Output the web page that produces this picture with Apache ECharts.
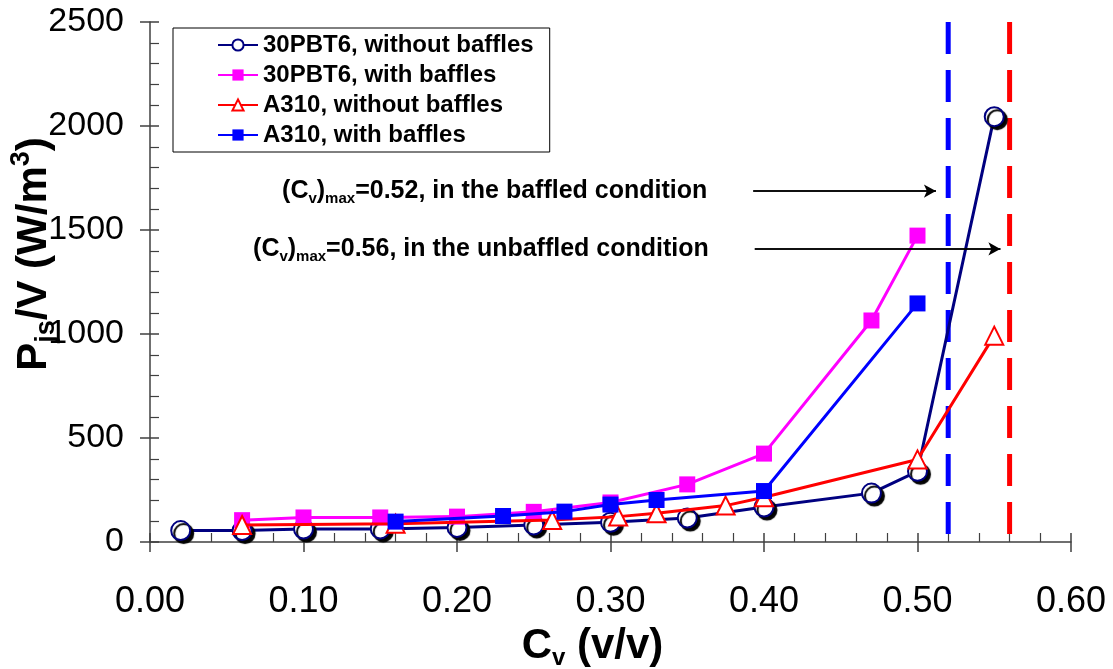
<!DOCTYPE html>
<html>
<head>
<meta charset="utf-8">
<script src="https://cdn.jsdelivr.net/npm/echarts@6/dist/echarts.min.js"></script>
<style>
html,body{margin:0;padding:0;background:#fff;}
#chart{width:1113px;height:669px;}
</style>
</head>
<body>
<div id="chart"></div>
<script>
// ---- data ----
const cv_30pbt6_nb = [0.02, 0.06, 0.10, 0.15, 0.20, 0.25, 0.30, 0.35, 0.40, 0.47, 0.50, 0.55];
const p_30pbt6_nb  = [55, 55, 62, 63, 70, 82, 95, 115, 168, 235, 340, 2045];
const cv_30pbt6_b  = [0.06, 0.10, 0.15, 0.20, 0.25, 0.30, 0.35, 0.40, 0.47, 0.50];
const p_30pbt6_b   = [105, 118, 118, 122, 145, 190, 277, 425, 1065, 1473];
const cv_a310_nb   = [0.06, 0.16, 0.262, 0.305, 0.33, 0.375, 0.40, 0.50, 0.55];
const p_a310_nb    = [82, 88, 106, 122, 138, 175, 215, 397, 992];
const cv_a310_b    = [0.16, 0.23, 0.27, 0.30, 0.33, 0.40, 0.50];
const p_a310_b     = [98, 125, 146, 180, 202, 245, 1147];
const seriesNames  = ['30PBT6, without baffles', '30PBT6, with baffles', 'A310, without baffles', 'A310, with baffles'];
const cvMaxBaffled = 0.52;
const cvMaxUnbaffled = 0.56;
const yTop = 2500;
// annotation arrows: [xStart, xEnd, y] in data units
const arrowBaffled   = [0.393, 0.512, 1687];
const arrowUnbaffled = [0.394, 0.554, 1409];

const zip = (xs, ys) => xs.map((x, i) => [x, ys[i]]);

const chart = echarts.init(document.getElementById('chart'), null, {renderer: 'canvas'});

const axisColor = '#404040';
const arial = '"Liberation Sans", Arial, sans-serif';

const gridRect = {left: 150, right: 42, top: 22, bottom: 127, containLabel: false, outerBoundsMode: 'none'};

function arrowSeries(a, label) {
  return [{
    type: 'line', xAxisIndex: 0, yAxisIndex: 0, silent: true,
    data: [[a[0], a[2]], [a[1], a[2]]],
    showSymbol: false, symbol: 'none',
    lineStyle: {color: '#000', width: 1.5},
    z: 5,
    markLine: {
      silent: true, symbol: ['none', 'arrow'], symbolSize: [10, 12],
      lineStyle: {color: '#000', width: 1.5, type: 'solid'},
      label: {show: false},
      data: [[{coord: [a[0], a[2]]}, {coord: [a[1], a[2]]}]]
    }
  }, {
    type: 'scatter', xAxisIndex: 0, yAxisIndex: 0, silent: true,
    data: [[a[0], a[2]]], symbolSize: 0,
    itemStyle: {opacity: 1},
    label: {
      show: true, position: 'left', distance: 46, color: '#000', opacity: 1,
      formatter: label,
      rich: {
        b: {fontFamily: arial, fontWeight: 'bold', fontSize: 25, color: '#000', verticalAlign: 'middle', lineHeight: 30},
        s: {fontFamily: arial, fontWeight: 'bold', fontSize: 15, color: '#000', verticalAlign: 'bottom', lineHeight: 30}
      }
    }
  }];
}

const option = {
  backgroundColor: '#fff',
  animation: false,
  grid: [Object.assign({}, gridRect), Object.assign({}, gridRect)],
  legend: {
    data: seriesNames,
    orient: 'vertical',
    left: 173, top: 28,
    padding: [5, 16, 5, 44],
    borderColor: '#000', borderWidth: 1,
    itemWidth: 40, itemHeight: 14, itemGap: 6,
    textStyle: {fontFamily: arial, fontWeight: 'bold', fontSize: 24, color: '#000', lineHeight: 24},
  },
  xAxis: [{
    gridIndex: 0, type: 'value', min: 0, max: 0.6, interval: 0.1,
    axisLine: {show: true, onZero: false, lineStyle: {color: axisColor, width: 1.5}},
    axisTick: {show: true, inside: false, length: 10, lineStyle: {color: axisColor, width: 1.5}},
    axisLabel: {fontFamily: arial, fontSize: 36, color: '#000', margin: 42, formatter: v => v.toFixed(2)},
    splitLine: {show: false},
    name: '{b|C}{s|v}{b| (v/v)}',
    nameLocation: 'middle', nameGap: 80, nameMoveOverlap: false,
    nameTextStyle: {
      padding: [0, 36, 0, 0],
      rich: {
        b: {fontFamily: arial, fontWeight: 'bold', fontSize: 42, color: '#000', verticalAlign: 'middle', lineHeight: 48},
        s: {fontFamily: arial, fontWeight: 'bold', fontSize: 24, color: '#000', verticalAlign: 'bottom', lineHeight: 48}
      }
    }
  }, {
    gridIndex: 1, type: 'value', min: 0, max: 0.6, interval: 0.1,
    axisLine: {show: false},
    axisTick: {show: true, inside: true, length: 9, lineStyle: {color: axisColor, width: 1.5}},
    minorTick: {show: true, splitNumber: 5, length: 9, lineStyle: {color: axisColor, width: 1.2}},
    axisLabel: {show: false}, splitLine: {show: false}
  }],
  yAxis: [{
    gridIndex: 0, type: 'value', min: 0, max: yTop, interval: 500,
    axisLine: {show: true, onZero: false, lineStyle: {color: axisColor, width: 1.5}},
    axisTick: {show: true, inside: false, length: 10, lineStyle: {color: axisColor, width: 1.5}},
    axisLabel: {fontFamily: arial, fontSize: 34, color: '#000', margin: 26, formatter: v => String(v)},
    splitLine: {show: false},
    name: '{b|P}{s|js}{b|/V (W/m}{u|3}{b|)}',
    nameLocation: 'middle', nameRotate: 90, nameGap: 90, nameMoveOverlap: false,
    nameTextStyle: {
      padding: [0, 0, 0, 56],
      rich: {
        b: {fontFamily: arial, fontWeight: 'bold', fontSize: 42, color: '#000', verticalAlign: 'middle', lineHeight: 52},
        s: {fontFamily: arial, fontWeight: 'bold', fontSize: 27, color: '#000', verticalAlign: 'bottom', lineHeight: 52},
        u: {fontFamily: arial, fontWeight: 'bold', fontSize: 27, color: '#000', verticalAlign: 'top', lineHeight: 52}
      }
    }
  }, {
    gridIndex: 1, type: 'value', min: 0, max: yTop, interval: 500,
    axisLine: {show: false},
    axisTick: {show: true, inside: true, length: 9, lineStyle: {color: axisColor, width: 1.5}},
    minorTick: {show: true, splitNumber: 5, length: 9, lineStyle: {color: axisColor, width: 1.2}},
    axisLabel: {show: false}, splitLine: {show: false}
  }],
  series: [
    {
      type: 'line', name: 'vline-b', silent: true, data: [[cvMaxBaffled, yTop], [cvMaxBaffled, 0]],
      showSymbol: false, symbol: 'none', z: 1,
      lineStyle: {color: '#0000FF', width: 5, type: [32, 16]}
    },
    {
      type: 'line', name: 'vline-u', silent: true, data: [[cvMaxUnbaffled, yTop], [cvMaxUnbaffled, 0]],
      showSymbol: false, symbol: 'none', z: 1,
      lineStyle: {color: '#FF0000', width: 5, type: [32, 16]}
    },
    {
      type: 'line', name: seriesNames[0], data: zip(cv_30pbt6_nb, p_30pbt6_nb), z: 2,
      symbol: 'circle', symbolSize: 19,
      lineStyle: {color: '#000080', width: 3},
      itemStyle: {color: '#fff', borderColor: '#000080', borderWidth: 2,
                  shadowColor: '#000', shadowOffsetX: 3, shadowOffsetY: 3, shadowBlur: 1}
    },
    {
      type: 'line', name: seriesNames[1], data: zip(cv_30pbt6_b, p_30pbt6_b), z: 3,
      symbol: 'rect', symbolSize: 16,
      lineStyle: {color: '#FF00FF', width: 3},
      itemStyle: {color: '#FF00FF', borderColor: '#FF00FF', borderWidth: 0}
    },
    {
      type: 'line', name: seriesNames[2], data: zip(cv_a310_nb, p_a310_nb), z: 4,
      symbol: 'triangle', symbolSize: 18,
      lineStyle: {color: '#FF0000', width: 3},
      itemStyle: {color: '#fff', borderColor: '#FF0000', borderWidth: 2}
    },
    {
      type: 'line', name: seriesNames[3], data: zip(cv_a310_b, p_a310_b), z: 5,
      symbol: 'rect', symbolSize: 16,
      lineStyle: {color: '#0000FF', width: 3},
      itemStyle: {color: '#0000FF', borderColor: '#0000FF', borderWidth: 0}
    },
    ...arrowSeries(arrowBaffled, '{b|(C}{s|v}{b|)}{s|max}{b|=0.52, in the baffled condition}'),
    ...arrowSeries(arrowUnbaffled, '{b|(C}{s|v}{b|)}{s|max}{b|=0.56, in the unbaffled condition}')
  ]
};
chart.setOption(option);
</script>
</body>
</html>
